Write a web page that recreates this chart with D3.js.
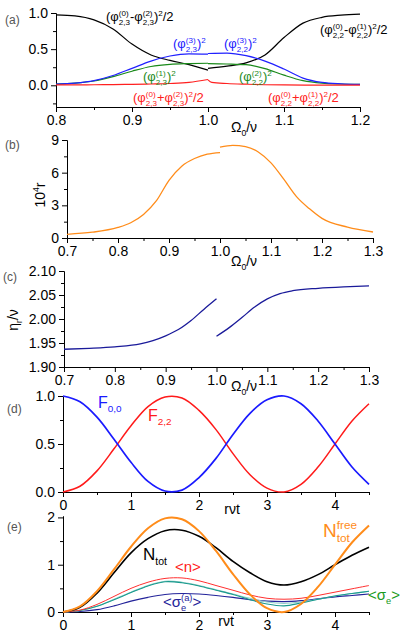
<!DOCTYPE html>
<html>
<head>
<meta charset="utf-8">
<script src="https://cdn.jsdelivr.net/npm/d3@7"></script>
<style>
body { margin: 0; background: #fff; }
text { font-family: "Liberation Sans", Arial, sans-serif; }
</style>
</head>
<body>
<svg id="fig" width="407" height="636"></svg>
<script>
// ---- (a) squared amplitudes vs Omega0/nu
let a_x_left = [0.8, 0.825, 0.85, 0.875, 0.9, 0.925, 0.95, 0.975, 1.0]
let a_x_right = [1.0, 1.025, 1.05, 1.075, 1.1, 1.125, 1.15, 1.175, 1.2]
let a_black_left = [0.975, 0.96, 0.905, 0.78, 0.57, 0.42, 0.345, 0.285, 0.21]
let a_black_right = [0.235, 0.265, 0.31, 0.42, 0.66, 0.86, 0.94, 0.97, 0.985]
let a_blue_left = [0.015, 0.03, 0.065, 0.135, 0.235, 0.335, 0.405, 0.435, 0.43]
let a_blue_right = [0.44, 0.445, 0.41, 0.335, 0.225, 0.1, 0.04, 0.02, 0.012]
let a_green_left = [0.015, 0.03, 0.06, 0.12, 0.195, 0.26, 0.29, 0.3, 0.305]
let a_green_right = [0.3, 0.295, 0.285, 0.23, 0.14, 0.065, 0.03, 0.018, 0.012]
let a_red_left = [0.005, 0.005, 0.008, 0.01, 0.013, 0.018, 0.025, 0.04, 0.08]
let a_red_x_right = [1.0, 1.005, 1.025, 1.05, 1.075, 1.1, 1.15, 1.2]
let a_red_right = [0.075, 0.04, 0.025, 0.015, 0.008, 0.005, 0.003, 0.002]

// ---- (b) 10^4 r
let b_x_left = [0.7, 0.75, 0.8, 0.825, 0.85, 0.875, 0.9, 0.925, 0.95, 0.975, 1.0]
let b_left = [0.34, 0.53, 0.97, 1.4, 2.16, 3.4, 5.3, 6.6, 7.3, 7.7, 7.85]
let b_x_right = [1.0, 1.025, 1.05, 1.075, 1.1, 1.125, 1.15, 1.175, 1.2, 1.25, 1.3]
let b_right = [8.35, 8.5, 8.4, 7.9, 6.9, 5.4, 3.8, 2.7, 1.8, 1.0, 0.55]

// ---- (c) eta_r / nu
let c_x_left = [0.7, 0.75, 0.8, 0.85, 0.875, 0.9, 0.925, 0.95, 0.975, 1.0]
let c_left = [1.937, 1.939, 1.942, 1.948, 1.955, 1.965, 1.978, 1.997, 2.02, 2.042]
let c_x_right = [1.0, 1.025, 1.05, 1.075, 1.1, 1.125, 1.15, 1.2, 1.25, 1.3]
let c_right = [1.964, 1.982, 2.003, 2.025, 2.042, 2.053, 2.059, 2.064, 2.067, 2.069]

// ---- (d), (e) vs r nu t
let t_vals = [0, 0.25, 0.5, 0.75, 1, 1.25, 1.5, 1.75, 2, 2.25, 2.5, 2.75, 3, 3.25, 3.5, 3.75, 4, 4.25, 4.5]
let d_F00 = [1, 0.94, 0.78, 0.55, 0.31, 0.11, 0.01, 0.02, 0.15, 0.35, 0.6, 0.82, 0.96, 1.0, 0.92, 0.74, 0.5, 0.26, 0.08]
let d_F22 = [0, 0.06, 0.22, 0.45, 0.69, 0.89, 0.99, 0.98, 0.85, 0.65, 0.4, 0.18, 0.04, 0.0, 0.08, 0.26, 0.5, 0.74, 0.92]

let e_Nfree = [0, 0.12, 0.44, 0.9, 1.38, 1.77, 1.98, 1.96, 1.71, 1.29, 0.8, 0.37, 0.08, 0.0, 0.17, 0.53, 1.0, 1.47, 1.83]
let e_Ntot = [0, 0.1, 0.4, 0.83, 1.25, 1.55, 1.72, 1.73, 1.6, 1.36, 1.07, 0.83, 0.64, 0.57, 0.64, 0.79, 1.0, 1.2, 1.37]
let e_n = [0, 0.04, 0.16, 0.33, 0.5, 0.63, 0.71, 0.72, 0.66, 0.56, 0.46, 0.36, 0.29, 0.27, 0.29, 0.35, 0.42, 0.49, 0.56]
let e_sigma = [0, 0.03, 0.12, 0.26, 0.41, 0.55, 0.64, 0.62, 0.55, 0.46, 0.37, 0.26, 0.17, 0.13, 0.19, 0.27, 0.34, 0.39, 0.44]
let e_sigma_light = [0, 0.03, 0.12, 0.27, 0.42, 0.56, 0.65, 0.63, 0.56, 0.47, 0.38, 0.29, 0.21, 0.18, 0.21, 0.27, 0.34, 0.39, 0.44]
let e_sigma_a = [0, 0.01, 0.05, 0.13, 0.23, 0.31, 0.37, 0.39, 0.38, 0.35, 0.31, 0.26, 0.23, 0.22, 0.24, 0.28, 0.32, 0.35, 0.38]

let svg = d3.select("#fig")

function zip(xs, ys){
    return xs.map((x, i) => ({x: x, y: ys[i]}))
}

// text built from pieces: plain strings, or {sup, sub} stacked scripts
function rich_text(g, x, y, parts, size, color, anchor){
    let grp = g.append("g").attr("fill", color)
    let cx = 0
    let small = size * 0.62
    for(let p of parts){
        if(typeof p === "string"){
            let t = grp.append("text").attr("x", cx).attr("y", 0)
                .style("font-size", size + "px").text(p)
            cx += t.node().getComputedTextLength()
        } else {
            let w = 0
            if(p.sup !== undefined){
                let t = grp.append("text").attr("x", cx).attr("y", -size * 0.42)
                    .style("font-size", small + "px").text(p.sup)
                w = Math.max(w, t.node().getComputedTextLength())
            }
            if(p.sub !== undefined){
                let t = grp.append("text").attr("x", cx).attr("y", size * 0.28)
                    .style("font-size", small + "px").text(p.sub)
                w = Math.max(w, t.node().getComputedTextLength())
            }
            cx += w
        }
    }
    let shift = anchor === "middle" ? -cx / 2 : anchor === "end" ? -cx : 0
    grp.attr("transform", "translate(" + (x + shift) + "," + y + ")")
    return grp
}

function make_panel(p){
    let x = d3.scaleLinear().domain(p.xd).range([p.l, p.r])
    let y = d3.scaleLinear().domain(p.yd).range([p.b, p.t])

    svg.append("g")
        .attr("transform", "translate(0," + p.b + ")")
        .call(d3.axisBottom(x).tickValues(p.xminor).tickSize(3).tickFormat("").tickSizeOuter(0))
    svg.append("g")
        .attr("transform", "translate(" + p.l + ",0)")
        .call(d3.axisLeft(y).tickValues(p.yminor).tickSize(3).tickFormat("").tickSizeOuter(0))

    let xa = svg.append("g")
        .attr("transform", "translate(0," + p.b + ")")
        .call(d3.axisBottom(x).tickValues(p.xticks).tickSize(5).tickPadding(3)
            .tickFormat(d3.format(p.xf)).tickSizeOuter(0))
    let ya = svg.append("g")
        .attr("transform", "translate(" + p.l + ",0)")
        .call(d3.axisLeft(y).tickValues(p.yticks).tickSize(5).tickPadding(3)
            .tickFormat(d3.format(p.yf)).tickSizeOuter(0))
    for(let a of [xa, ya]){
        a.selectAll("text").style("font-size", "14px").attr("fill", "#000")
            .style("font-family", "Liberation Sans, Arial, sans-serif")
        a.selectAll("line").attr("stroke", "#000")
        a.select(".domain").attr("stroke", "#000")
    }
    return {x: x, y: y}
}

function draw_line(sc, data, color, width, curve){
    svg.append("path")
        .datum(data)
        .attr("fill", "none")
        .attr("stroke", color)
        .attr("stroke-width", width)
        .attr("stroke-linejoin", "round")
        .attr("d", d3.line()
            .x(d => sc.x(d.x))
            .y(d => sc.y(d.y))
            .curve(curve || d3.curveMonotoneX))
}

function panel_letter(x, y, s){
    svg.append("text").attr("x", x).attr("y", y).attr("fill", "#555")
        .style("font-size", "12px").text(s)
}

let omega_label = ["\u03A9", {sub: "0"}, "/\u03BD"]
let phi = "\u03C6"

// ---------------- (a)
let pa = make_panel({
    l: 56, r: 360, t: 13, b: 107, xd: [0.8, 1.2], yd: [-0.3, 1.0],
    xticks: [0.8, 0.9, 1.0, 1.1, 1.2], xminor: [0.85, 0.95, 1.05, 1.15], xf: ".1f",
    yticks: [0, 0.5, 1.0], yminor: [-0.25, 0.25, 0.75], yf: ".1f"
})
draw_line(pa, zip(a_x_left, a_black_left), "#000", 1.2)
draw_line(pa, zip(a_x_right, a_black_right), "#000", 1.2)
draw_line(pa, zip(a_x_left, a_green_left), "#1a8a1a", 1.2)
draw_line(pa, zip(a_x_right, a_green_right), "#1a8a1a", 1.2)
draw_line(pa, zip(a_x_left, a_blue_left), "#2020ff", 1.2)
draw_line(pa, zip(a_x_right, a_blue_right), "#2020ff", 1.2)
draw_line(pa, zip(a_x_left, a_red_left), "#ff2020", 1.2)
draw_line(pa, zip(a_red_x_right, a_red_right), "#ff2020", 1.2)
panel_letter(5, 24, "(a)")
rich_text(svg, 106, 21, ["(" + phi, {sup: "(0)", sub: "2,3"}, "-" + phi, {sup: "(2)", sub: "2,3"}, ")", {sup: "2"}, "/2"], 13, "#000")
rich_text(svg, 320, 34, ["(" + phi, {sup: "(0)", sub: "2,2"}, "-" + phi, {sup: "(1)", sub: "2,2"}, ")", {sup: "2"}, "/2"], 13, "#000")
rich_text(svg, 173, 48, ["(" + phi, {sup: "(3)", sub: "2,3"}, ")", {sup: "2"}], 13, "#2020ff")
rich_text(svg, 224, 48, ["(" + phi, {sup: "(3)", sub: "2,2"}, ")", {sup: "2"}], 13, "#2020ff")
rich_text(svg, 143, 81, ["(" + phi, {sup: "(1)", sub: "2,3"}, ")", {sup: "2"}], 13, "#1a8a1a")
rich_text(svg, 239, 81, ["(" + phi, {sup: "(2)", sub: "2,2"}, ")", {sup: "2"}], 13, "#1a8a1a")
rich_text(svg, 133, 102, ["(" + phi, {sup: "(0)", sub: "2,3"}, "+" + phi, {sup: "(2)", sub: "2,3"}, ")", {sup: "2"}, "/2"], 13, "#ff2020")
rich_text(svg, 268, 102, ["(" + phi, {sup: "(0)", sub: "2,2"}, "+" + phi, {sup: "(1)", sub: "2,2"}, ")", {sup: "2"}, "/2"], 13, "#ff2020")
rich_text(svg, 244, 132, omega_label, 14, "#000", "middle")

// ---------------- (b)
let pb = make_panel({
    l: 67, r: 373, t: 140, b: 238, xd: [0.7, 1.3], yd: [0, 9],
    xticks: [0.7, 0.8, 0.9, 1.0, 1.1, 1.2, 1.3], xminor: [0.75, 0.85, 0.95, 1.05, 1.15, 1.25], xf: ".1f",
    yticks: [0, 3, 6, 9], yminor: [1.5, 4.5, 7.5], yf: "d"
})
draw_line(pb, zip(b_x_left, b_left), "#ff8c1a", 1.3)
draw_line(pb, zip(b_x_right, b_right), "#ff8c1a", 1.3)
panel_letter(5, 149, "(b)")
let yb = svg.append("g").attr("transform", "translate(45,195) rotate(-90)")
rich_text(yb, 0, 0, ["10", {sup: "4"}, "r"], 14, "#000", "middle")
rich_text(svg, 244, 266, omega_label, 14, "#000", "middle")

// ---------------- (c)
let pc = make_panel({
    l: 64, r: 369, t: 271, b: 367, xd: [0.7, 1.3], yd: [1.9, 2.1],
    xticks: [0.7, 0.8, 0.9, 1.0, 1.1, 1.2, 1.3], xminor: [0.75, 0.85, 0.95, 1.05, 1.15, 1.25], xf: ".1f",
    yticks: [1.9, 1.95, 2.0, 2.05, 2.1], yminor: [1.925, 1.975, 2.025, 2.075], yf: ".2f"
})
draw_line(pc, zip(c_x_left, c_left), "#1a1a9a", 1.3)
draw_line(pc, zip(c_x_right, c_right), "#1a1a9a", 1.3)
panel_letter(3, 281, "(c)")
let yc = svg.append("g").attr("transform", "translate(18,320) rotate(-90)")
rich_text(yc, 0, 0, ["\u03B7", {sub: "r"}, "/\u03BD"], 14, "#000", "middle")
rich_text(svg, 244, 391, omega_label, 14, "#000", "middle")

// ---------------- (d)
let pd = make_panel({
    l: 63, r: 369, t: 396, b: 492, xd: [0, 4.5], yd: [0, 1],
    xticks: [0, 1, 2, 3, 4], xminor: [0.5, 1.5, 2.5, 3.5, 4.5], xf: "d",
    yticks: [0, 0.5, 1.0], yminor: [0.25, 0.75], yf: ".1f"
})
draw_line(pd, zip(t_vals, d_F22), "#ff1a1a", 1.5, d3.curveCatmullRom)
draw_line(pd, zip(t_vals, d_F00), "#1a1aff", 1.7, d3.curveCatmullRom)
panel_letter(7, 413, "(d)")
rich_text(svg, 98, 408, ["F", {sub: "0,0"}], 16, "#1a1aff")
rich_text(svg, 148, 421, ["F", {sub: "2,2"}], 16, "#ff1a1a")
rich_text(svg, 232, 514, ["r\u03BDt"], 14, "#000", "middle")

// ---------------- (e)
let pe = make_panel({
    l: 63, r: 369, t: 516, b: 612, xd: [0, 4.5], yd: [0, 2.03],
    xticks: [0, 1, 2, 3, 4], xminor: [0.5, 1.5, 2.5, 3.5, 4.5], xf: "d",
    yticks: [0, 1, 2], yminor: [0.5, 1.5], yf: "d"
})
draw_line(pe, zip(t_vals, e_sigma_a), "#23239a", 1.1, d3.curveCatmullRom)
draw_line(pe, zip(t_vals, e_sigma_light), "#8fcfc7", 1.1, d3.curveCatmullRom)
draw_line(pe, zip(t_vals, e_sigma), "#1a9a8e", 1.1, d3.curveCatmullRom)
draw_line(pe, zip(t_vals, e_n), "#ff3030", 1.0, d3.curveCatmullRom)
draw_line(pe, zip(t_vals, e_Ntot), "#000", 1.6, d3.curveCatmullRom)
draw_line(pe, zip(t_vals, e_Nfree), "#ff8c1a", 2.0, d3.curveCatmullRom)
panel_letter(7, 531, "(e)")
rich_text(svg, 143, 560, ["N", {sub: "tot"}], 17, "#000")
rich_text(svg, 175, 572, ["<n>"], 15, "#ff2020")
rich_text(svg, 163, 607, ["<\u03C3", {sup: "(a)", sub: "e"}, ">"], 15, "#23239a")
rich_text(svg, 323, 537, ["N", {sup: "free", sub: "tot"}], 19, "#ff8c1a")
rich_text(svg, 368, 600, ["<\u03C3", {sub: "e"}, ">"], 15, "#1a9a1a")
rich_text(svg, 226, 626, ["r\u03BDt"], 14, "#000", "middle")
</script>
</body>
</html>
